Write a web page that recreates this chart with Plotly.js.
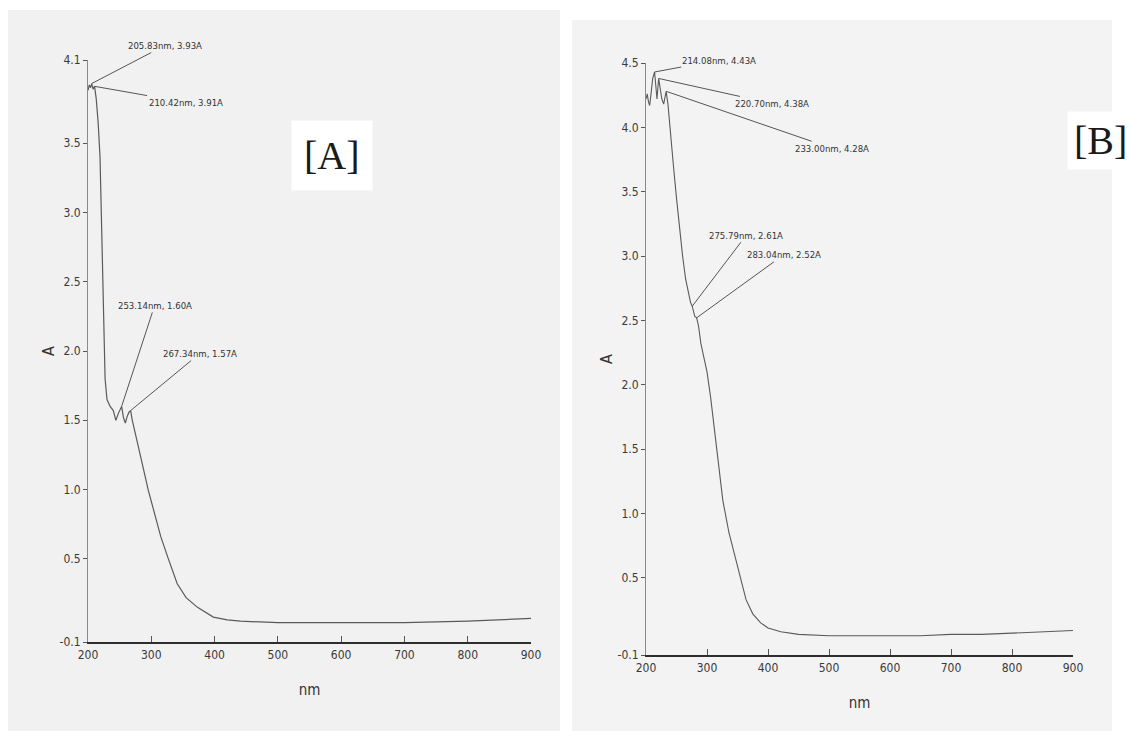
<!DOCTYPE html>
<html>
<head>
<meta charset="utf-8">
<script src="https://cdn.plot.ly/plotly-3.0.1.min.js"></script>
<style>
  html, body { margin: 0; padding: 0; background: #ffffff; }
  #chart { width: 1130px; height: 731px; }
</style>
</head>
<body>
<div id="chart"></div>
<script>
// ---- Data: panel [A] ----
const nmA = [200, 202, 204, 205.83, 208, 210.42, 213, 216, 219, 221, 223, 225, 227, 230, 235, 240,
  244, 248, 251, 253.14, 256, 259, 262, 265, 267.34, 270, 275, 283, 290, 295, 305, 315, 327, 341,
  355, 373, 398, 420, 441, 500, 600, 700, 800, 850, 900];
const absA = [3.88, 3.92, 3.90, 3.93, 3.89, 3.91, 3.82, 3.65, 3.40, 3.00, 2.55, 2.10, 1.80, 1.65, 1.60, 1.57,
  1.50, 1.55, 1.58, 1.60, 1.52, 1.48, 1.53, 1.56, 1.57, 1.50, 1.40, 1.25, 1.10, 1.00, 0.82, 0.66, 0.50, 0.32,
  0.22, 0.15, 0.08, 0.06, 0.05, 0.04, 0.04, 0.04, 0.05, 0.06, 0.07];
const peaksA_nm = [205.83, 210.42, 253.14, 267.34];
const peaksA_abs = [3.93, 3.91, 1.60, 1.57];
const peaksA_text = ["205.83nm, 3.93A", "210.42nm, 3.91A", "253.14nm, 1.60A", "267.34nm, 1.57A"];

// ---- Data: panel [B] ----
const nmB = [200, 202, 204, 206, 208, 211, 214.08, 216, 218, 220.70, 223, 226, 229, 231, 233.00, 236,
  240, 245, 250, 255, 260, 265, 270, 273, 275.79, 278, 280, 283.04, 286, 290, 300, 306, 316, 326, 336,
  347, 356, 364, 375, 388, 400, 421, 450, 500, 550, 600, 650, 700, 750, 800, 850, 900];
const absB = [4.22, 4.26, 4.20, 4.17, 4.25, 4.38, 4.43, 4.32, 4.22, 4.38, 4.30, 4.22, 4.18, 4.24, 4.28, 4.18,
  3.95, 3.70, 3.45, 3.22, 3.00, 2.82, 2.69, 2.64, 2.61, 2.56, 2.53, 2.52, 2.46, 2.32, 2.10, 1.90, 1.50, 1.10, 0.85,
  0.64, 0.46, 0.33, 0.22, 0.15, 0.11, 0.08, 0.06, 0.05, 0.05, 0.05, 0.05, 0.06, 0.06, 0.07, 0.08, 0.09];
const peaksB_nm = [214.08, 220.70, 233.00, 275.79, 283.04];
const peaksB_abs = [4.43, 4.38, 4.28, 2.61, 2.52];
const peaksB_text = ["214.08nm, 4.43A", "220.70nm, 4.38A", "233.00nm, 4.28A", "275.79nm, 2.61A", "283.04nm, 2.52A"];

// ---- Tick labels ----
const xTicks = [200, 300, 400, 500, 600, 700, 800, 900];
const yTicksA = [-0.1, 0.5, 1.0, 1.5, 2.0, 2.5, 3.0, 3.5, 4.1];
const yTextA = ["-0.1", "0.5", "1.0", "1.5", "2.0", "2.5", "3.0", "3.5", "4.1"];
const yTicksB = [-0.1, 0.5, 1.0, 1.5, 2.0, 2.5, 3.0, 3.5, 4.0, 4.5];
const yTextB = ["-0.1", "0.5", "1.0", "1.5", "2.0", "2.5", "3.0", "3.5", "4.0", "4.5"];

// ---- Styling ----
const W = 1130, H = 731;
const narrow = "Liberation Sans Narrow, DejaVu Sans Condensed, Arial Narrow, sans-serif";
const tickFont = {family: narrow, size: 12, color: "#3a3a3a"};
const curveColor = "#5a5a5a";

const traces = [
  {x: nmA, y: absA, xaxis: "x", yaxis: "y", type: "scatter", mode: "lines",
   line: {color: curveColor, width: 1.2}, hoverinfo: "x+y", showlegend: false},
  {x: nmB, y: absB, xaxis: "x2", yaxis: "y2", type: "scatter", mode: "lines",
   line: {color: curveColor, width: 1.1}, hoverinfo: "x+y", showlegend: false}
];

function xAxis(domain, anchor) {
  return {
    domain: domain, anchor: anchor, range: [200, 900],
    tickvals: xTicks, ticks: "inside", ticklen: 6, tickcolor: "#555", tickwidth: 1,
    showline: true, linecolor: "#2e2e2e", linewidth: 2.2, mirror: false,
    showgrid: false, zeroline: false, tickfont: tickFont,
    title: {text: "nm", font: {family: narrow, size: 15, color: "#333"}, standoff: 24}
  };
}
function yAxis(domain, anchor, range, vals, text) {
  return {
    domain: domain, anchor: anchor, range: range,
    tickvals: vals, ticktext: text, ticks: "outside", ticklen: 4, tickcolor: "#555",
    showline: true, linecolor: "#8a8a8a", linewidth: 1, showgrid: false, zeroline: false,
    tickfont: tickFont,
    title: {text: "A", font: {family: narrow, size: 16, color: "#333"}, standoff: 0}
  };
}

const annotations = [];
const offA = [[73, -38], [91, 16], [33, -101], [69, -57]];
peaksA_nm.forEach((v, i) => annotations.push({
  x: v, y: peaksA_abs[i], xref: "x", yref: "y", text: peaksA_text[i],
  showarrow: true, arrowhead: 0, arrowwidth: 1, arrowcolor: "#555",
  ax: offA[i][0], ay: offA[i][1], font: {family: narrow, size: 9.5, color: "#333"}
}));
const offB = [[64, -12], [113, 25], [166, 57], [54, -71], [87, -63]];
peaksB_nm.forEach((v, i) => annotations.push({
  x: v, y: peaksB_abs[i], xref: "x2", yref: "y2", text: peaksB_text[i],
  showarrow: true, arrowhead: 0, arrowwidth: 1, arrowcolor: "#555",
  ax: offB[i][0], ay: offB[i][1], font: {family: narrow, size: 9.5, color: "#333"}
}));
annotations.push({
  xref: "paper", yref: "paper", x: 332 / W, y: 1 - 155 / H, xanchor: "center", yanchor: "middle",
  text: "[A]", showarrow: false,
  font: {family: "Liberation Serif, Times New Roman, serif", size: 40, color: "#1a1a1a"},
  bgcolor: "#ffffff", borderpad: 12
});
annotations.push({
  xref: "paper", yref: "paper", x: 1100 / W, y: 1 - 140 / H, xanchor: "center", yanchor: "middle",
  text: "[B]", showarrow: false,
  font: {family: "Liberation Serif, Times New Roman, serif", size: 40, color: "#1a1a1a"},
  bgcolor: "#ffffff", borderpad: 6
});

const shapes = [
  {type: "rect", xref: "paper", yref: "paper", x0: 8 / W, x1: 560 / W, y0: 0, y1: 1 - 10 / H,
   fillcolor: "#f1f1f1", line: {width: 0}, layer: "below"},
  {type: "rect", xref: "paper", yref: "paper", x0: 572 / W, x1: 1112 / W, y0: 0, y1: 1 - 20 / H,
   fillcolor: "#f3f3f3", line: {width: 0}, layer: "below"}
];

const layout = {
  width: W, height: H,
  margin: {l: 0, r: 0, t: 0, b: 0},
  paper_bgcolor: "#ffffff", plot_bgcolor: "rgba(0,0,0,0)",
  showlegend: false,
  xaxis: xAxis([88 / W, 531 / W], "y"),
  yaxis: yAxis([1 - 642 / H, 1 - 60 / H], "x", [-0.1, 4.1], yTicksA, yTextA),
  xaxis2: xAxis([646 / W, 1073 / W], "y2"),
  yaxis2: yAxis([1 - 655 / H, 1 - 63 / H], "x2", [-0.1, 4.5], yTicksB, yTextB),
  annotations: annotations,
  shapes: shapes
};

Plotly.newPlot("chart", traces, layout, {displayModeBar: false, staticPlot: true});
</script>
</body>
</html>
